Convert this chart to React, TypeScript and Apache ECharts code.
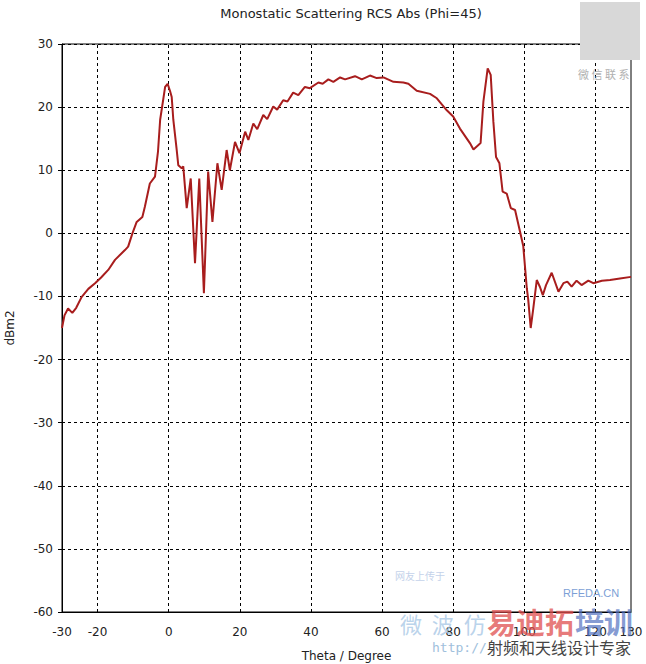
import React, { useEffect, useRef } from 'react';
import * as echarts from 'echarts';

const theta = [
  -30, -29.3, -28.3, -27.1, -26, -24.5, -22.6, -20.7, -19, -17.0, -15.1, -12.3, -11.4, -10.2, -9.0,
  -7.4, -6.7, -5.3, -3.85, -3.0, -2.4, -1.0, -0.3, 0.4, 0.85, 1.3, 2.2, 2.7, 3.66, 4.1,
  5.07, 6.2, 7.4, 8.6, 9.9, 11.1, 12.3, 13.7, 14.9, 16.3, 17.2, 18.65, 19.9, 21.5, 22.4,
  23.8, 24.9, 26.6, 27.7, 29.4, 30.5, 32.2, 33.4, 35.0, 36.45, 38.3, 39.7, 42.1, 43.3, 44.9,
  46.3, 48.2, 49.6, 52.4, 54.3, 56.6, 58.5, 60.4, 63.2, 66.0, 67.4, 69.75, 73.5, 75.4, 78.2,
  80.0, 81.9, 84.7, 85.7, 87.1, 87.7, 88.5, 89.7, 90.55, 91.3, 92.05, 93.0, 93.9, 95.05, 96.2,
  97.4, 98.8, 99.7, 100.7, 101.1, 101.8, 102.5, 103.5, 104.4, 105.2, 106.1, 107.7, 109.6, 111.0, 112.1,
  113.3, 114.7, 116.1, 118.0, 119.4, 121.8, 124.1, 126.9, 130,
];
const rcs = [
  -15.0, -13.0, -11.9, -12.6, -11.8, -10.1, -8.8, -7.9, -7.0, -5.8, -4.2, -2.65, -2.1, 0, 1.8,
  2.6, 4.2, 7.9, 9.0, 13, 18.0, 23.2, 23.7, 22.5, 21.6, 18.0, 13.5, 10.8, 10.3, 10.6,
  4.0, 8.7, -4.75, 8.7, -9.5, 9.8, 1.8, 11.1, 6.9, 13.2, 10.0, 14.5, 12.7, 16.1, 14.8,
  17.4, 16.5, 18.75, 18.1, 20.1, 19.6, 21.1, 20.9, 22.3, 21.9, 23.2, 23.0, 23.9, 23.7, 24.4,
  24.0, 24.7, 24.4, 24.9, 24.4, 25.0, 24.6, 24.7, 24.0, 23.9, 23.7, 22.6, 22.1, 21.4, 19.5,
  18.5, 16.6, 14.3, 13.3, 14.0, 14.3, 20.9, 26.15, 25.1, 17.7, 12.1, 11.1, 6.6, 6.3, 4.0,
  3.7, 0.25, -2.0, -8.7, -10.5, -15.0, -12.0, -7.4, -8.5, -9.8, -8.2, -6.25, -9.25, -7.9, -7.65,
  -8.45, -7.5, -8.2, -7.5, -7.9, -7.5, -7.4, -7.15, -6.9,
];
const xLabelValues = [-30, -20, 0, 20, 40, 60, 80, 100, 120, 130];
const xGridValues = [-20, 0, 20, 40, 60, 80, 100, 120];

const FONT = 'DejaVu Sans';

export default function App() {
  const ref = useRef<HTMLDivElement>(null);
  useEffect(() => {
    document.body.style.margin = '0';
    const chart = echarts.init(ref.current!, null, { renderer: 'svg' });
    const data = theta.map((t, i) => [t, rcs[i]]);
    chart.setOption({
      animation: false,
      backgroundColor: '#fff',
      title: {
        text: 'Monostatic Scattering RCS Abs (Phi=45)',
        left: 346,
        textAlign: 'center',
        top: 2,
        textStyle: { fontFamily: FONT, fontSize: 13, fontWeight: 'normal', color: '#222' },
      },
      grid: {
        left: 62, right: 15, top: 44, bottom: 52,
        outerBoundsMode: 'none',
        containLabel: false,
        show: true, borderColor: '#000', borderWidth: 1, backgroundColor: 'transparent',
      },
      xAxis: {
        type: 'value', min: -30, max: 130, interval: 10,
        name: 'Theta / Degree', nameLocation: 'middle', nameGap: 38,
        nameTextStyle: { fontFamily: FONT, fontSize: 12, color: '#222' },
        axisLine: { show: true, onZero: false, lineStyle: { color: '#000', width: 1 } },
        axisTick: { show: false },
        splitLine: { show: false },
        axisLabel: {
          fontFamily: FONT, fontSize: 12, color: '#222', margin: 14,
          showMinLabel: true, showMaxLabel: true,
          formatter: (v: number) => (xLabelValues.includes(v) ? String(v) : ''),
        },
      },
      yAxis: {
        type: 'value', min: -60, max: 30, interval: 10,
        name: 'dBm2', nameLocation: 'middle', nameGap: 46,
        nameTextStyle: { fontFamily: FONT, fontSize: 12, color: '#222' },
        axisLine: { show: true, onZero: false, lineStyle: { color: '#000', width: 1 } },
        axisTick: { show: true, inside: false, length: 4, lineStyle: { color: '#000' } },
        splitLine: { show: true, lineStyle: { color: '#000', type: [3, 3], width: 1 } },
        axisLabel: { fontFamily: FONT, fontSize: 12, color: '#222', margin: 9 },
      },
      series: [
        {
          type: 'line',
          data,
          showSymbol: false,
          symbol: 'none',
          smooth: false,
          lineStyle: { color: '#a81d1d', width: 2 },
          z: 5,
          markLine: {
            silent: true,
            symbol: ['none', 'none'],
            label: { show: false },
            lineStyle: { color: '#000', type: [3, 3], width: 1 },
            emphasis: { disabled: true },
            data: xGridValues.map((v) => ({ xAxis: v })),
          },
        },
      ],
      graphic: [
        { type: 'rect', left: 580, top: 2, shape: { width: 60, height: 58 }, style: { fill: '#d8d8d8' }, z: 10 },
        { type: 'text', left: 578, top: 68, style: { text: '微 信 联 系', fontFamily: 'Noto Sans CJK SC', fontSize: 11, fill: '#b0b0b0' }, z: 10 },
        { type: 'text', left: 395, top: 570, style: { text: '网友上传于', fontFamily: 'Noto Sans CJK SC', fontSize: 10, fill: '#c4d2ea' }, z: 10 },
        { type: 'text', left: 563, top: 587, style: { text: 'RFEDA.CN', fontFamily: 'Liberation Sans', fontSize: 11, fill: '#7d9fd6' }, z: 10 },
        { type: 'text', left: 400, top: 612, style: { text: '微  波  仿', fontFamily: 'Noto Sans CJK SC', fontSize: 22, fill: '#a9c8e6', opacity: 0.8 }, z: 10 },
        { type: 'text', left: 487, top: 606, style: { text: '易迪拓', fontFamily: 'Noto Sans CJK SC', fontWeight: 'bold', fontSize: 29, fill: '#e05050', opacity: 0.75 }, z: 10 },
        { type: 'text', left: 575, top: 606, style: { text: '培训', fontFamily: 'Noto Sans CJK SC', fontWeight: 'bold', fontSize: 29, fill: '#5070c0', opacity: 0.7 }, z: 10 },
        { type: 'text', left: 432, top: 641, style: { text: 'http://', fontFamily: 'DejaVu Sans Mono', fontSize: 13, fill: '#a0c0dc' }, z: 10 },
        { type: 'text', left: 487, top: 639, style: { text: '射频和天线设计专家', fontFamily: 'Noto Sans CJK SC', fontSize: 16, fill: '#444' }, z: 10 },
      ],
    });
    return () => chart.dispose();
  }, []);
  return <div ref={ref} style={{ width: 646, height: 664 }} />;
}
